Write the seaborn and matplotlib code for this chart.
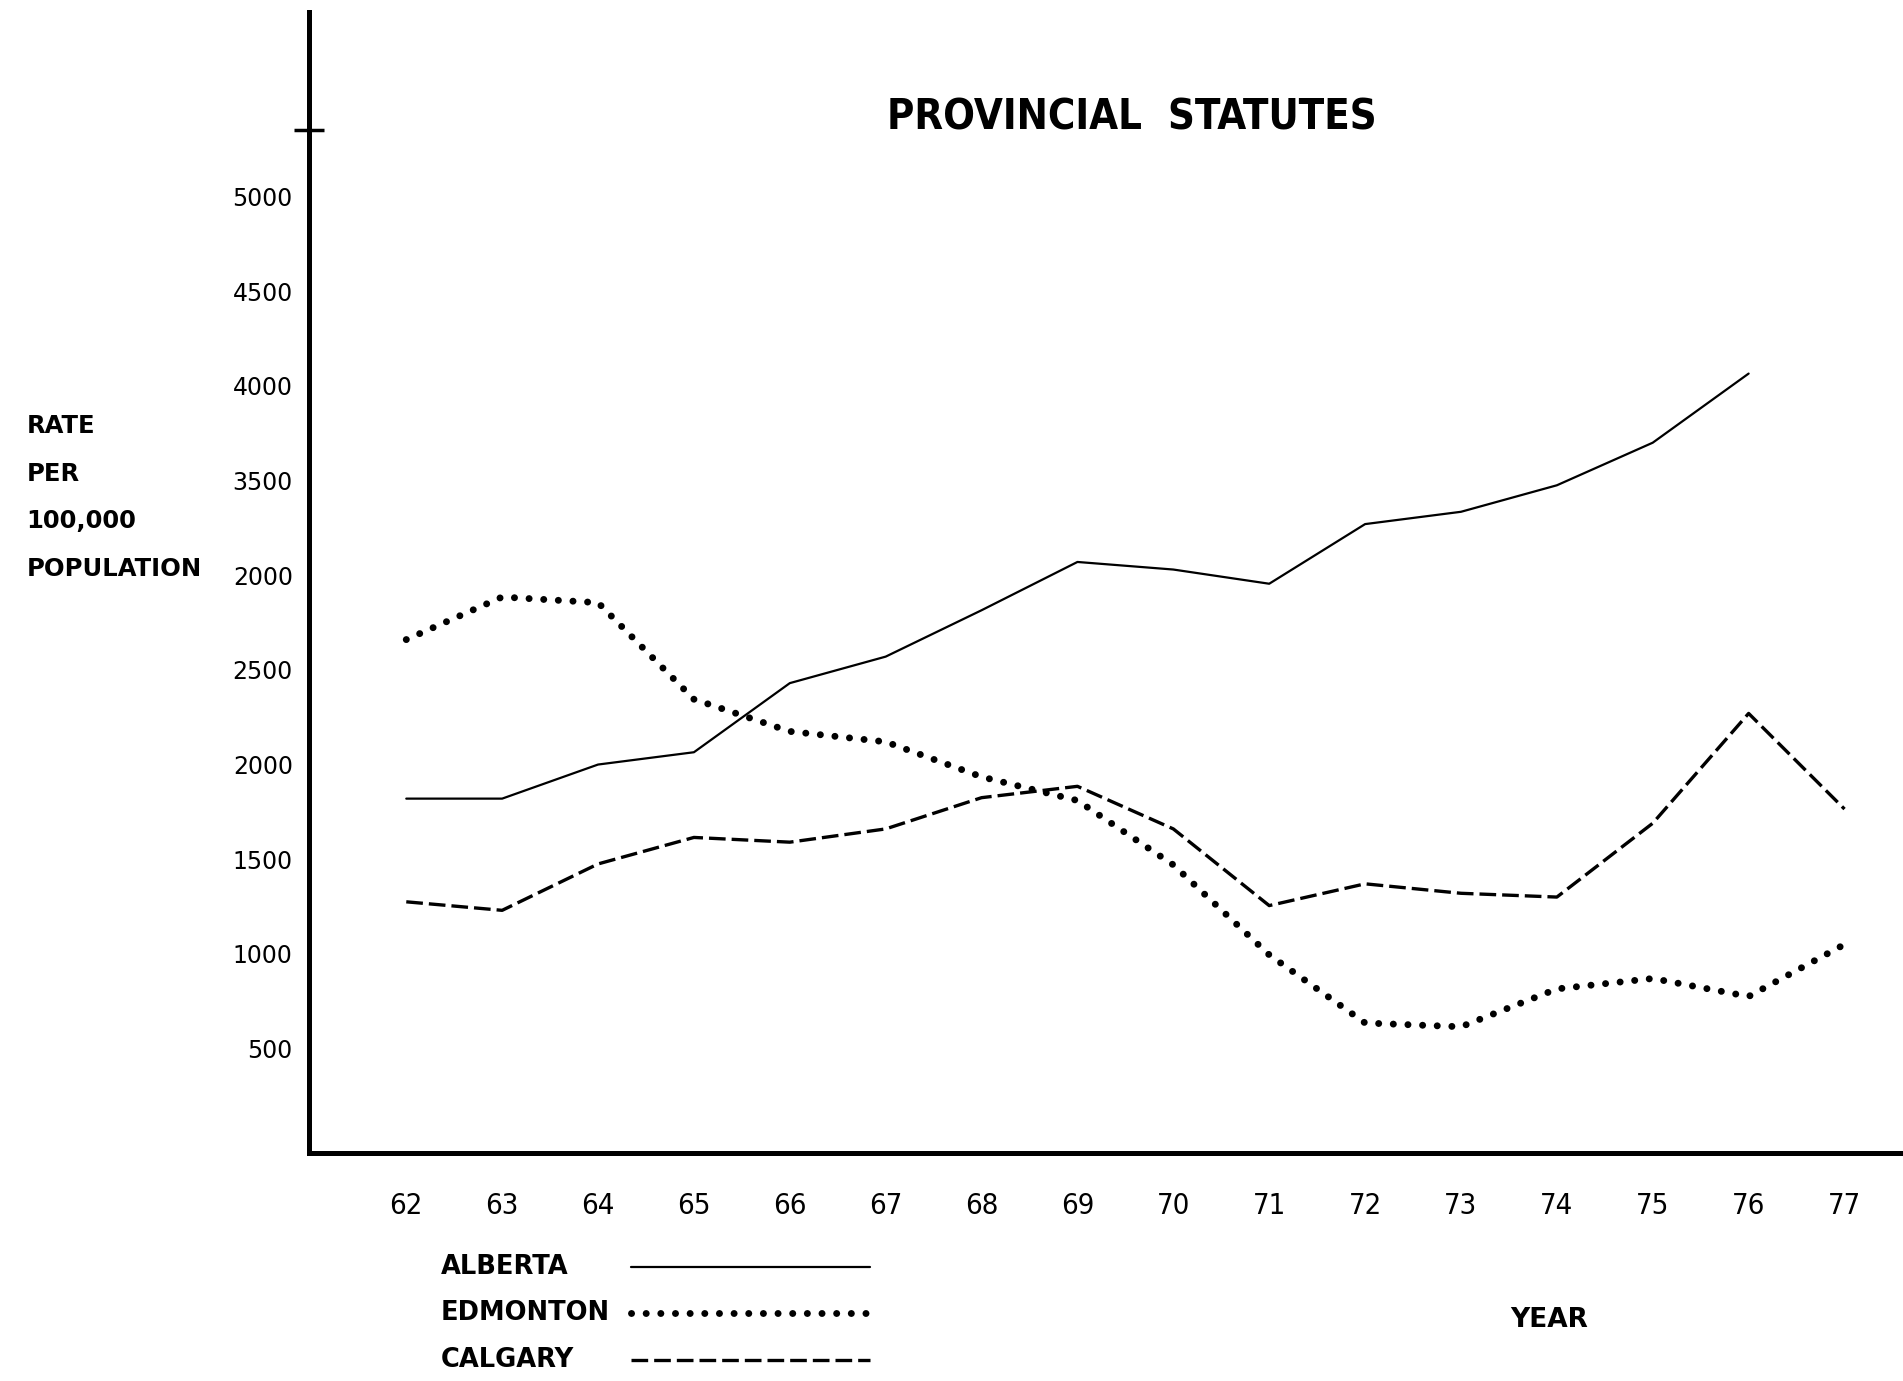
import matplotlib
matplotlib.use("Agg")
import pandas as pd
import seaborn as sns
import matplotlib.pyplot as plt
from matplotlib.lines import Line2D

# data
years = list(range(62, 78))
alberta = [1820, 1820, 2000, 2065, 2430, 2570, 2815, 3070, 3030, 2955,
           3270, 3335, 3475, 3700, 4065]
edmonton = [2660, 2885, 2855, 2345, 2175, 2120, 1935, 1810, 1470, 995,
            635, 615, 815, 870, 775, 1050]
calgary = [1275, 1230, 1475, 1615, 1590, 1660, 1825, 1885, 1660, 1255,
           1370, 1320, 1300, 1690, 2270, 1765]

ytick_vals = [500, 1000, 1500, 2000, 2500, 3000, 3500, 4000, 4500, 5000]
ytick_labels = ['500', '1000', '1500', '2000', '2500', '2000', '3500', '4000', '4500', '5000']
ylabel_lines = ['RATE', 'PER', '100,000', 'POPULATION']
legend_names = ['ALBERTA', 'EDMONTON', 'CALGARY']

sns.set_theme(style='white')
plt.rcParams['font.family'] = ['DejaVu Sans']
plt.rcParams['text.color'] = 'black'
plt.rcParams['xtick.color'] = 'black'
plt.rcParams['ytick.color'] = 'black'

fig = plt.figure(figsize=(19.03, 13.81), dpi=100)
fig.patch.set_facecolor('white')
ax = fig.add_axes([0.1626, 0.1652, 0.8374, 0.826])
ax.set_facecolor('white')

sns.lineplot(x=years[:len(alberta)], y=alberta, ax=ax, color='black', linewidth=1.6)
sns.lineplot(x=years, y=edmonton, ax=ax, color='black', linewidth=5)
ax.lines[-1].set_linestyle((0, (0.01, 2.1)))
ax.lines[-1].set_dash_capstyle('round')
sns.lineplot(x=years, y=calgary, ax=ax, color='black', linewidth=2.4)
ax.lines[-1].set_linestyle((0, (5, 1.8)))

ax.set_xlim(60.99, 77.61)
ax.set_ylim(-51, 5974)

ax.set_xticks(years)
ax.set_xticklabels([str(y) for y in years], fontsize=21, fontstretch='condensed')
ax.set_yticks(ytick_vals)
ax.set_yticklabels(ytick_labels, fontsize=17)
ax.set_yticks([5350], minor=True)
ax.tick_params(axis='both', which='major', length=0)
ax.tick_params(axis='x', pad=28)
ax.tick_params(axis='y', pad=12)
ax.tick_params(axis='y', which='minor', left=True, direction='inout',
               length=22, width=2.5, color='black')

for s in ['top', 'right']:
    ax.spines[s].set_visible(False)
for s in ['left', 'bottom']:
    ax.spines[s].set_linewidth(3.6)
    ax.spines[s].set_color('black')
ax.grid(False)

fig.text(0.595, 0.9148, 'PROVINCIAL  STATUTES', ha='center', va='center',
         fontsize=30, fontweight='bold', fontstretch='condensed')

for i, t in enumerate(ylabel_lines):
    fig.text(0.014, 0.6916 - i * 0.0346, t, ha='left', va='center',
             fontsize=17.5, fontweight='bold')

fig.text(0.8138, 0.0439, 'YEAR', ha='center', va='center', fontsize=19, fontweight='bold')

# legend drawn by hand: labels on the left, keys on the right
styles = [dict(lw=1.6, ls='-'),
          dict(lw=5, ls=(0, (0.01, 2.1)), dash_capstyle='round'),
          dict(lw=2.4, ls=(0, (5, 1.8)))]
rows = [0.0826, 0.0492, 0.0149]
for name, st, yy in zip(legend_names, styles, rows):
    fig.text(0.2315, yy, name, ha='left', va='center', fontsize=18.5, fontweight='bold')
    fig.add_artist(Line2D([0.3316, 0.4573], [yy, yy], color='black',
                          transform=fig.transFigure, **st))

fig.savefig('out.png', dpi=100, facecolor='white')
